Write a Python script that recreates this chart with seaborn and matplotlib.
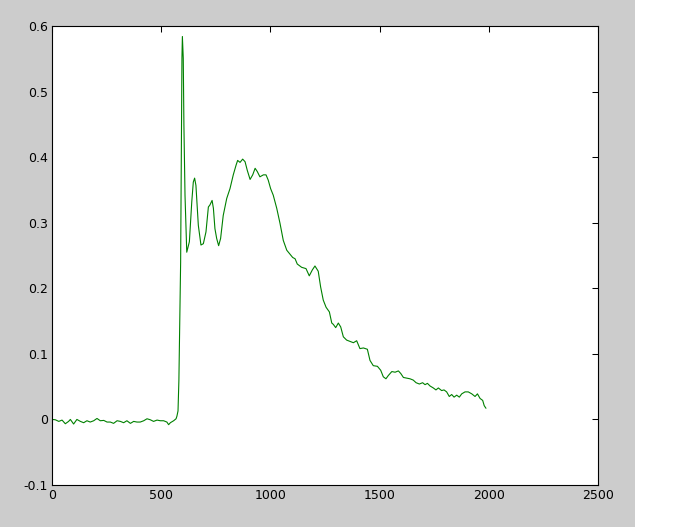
import numpy as np
import pandas as pd
import matplotlib
matplotlib.use('Agg')
import matplotlib.pyplot as plt
from matplotlib.patches import Rectangle
import seaborn as sns

# signal
x_vals = [0, 15, 31, 46, 61, 76, 84, 99, 114, 130, 145, 160, 175, 191, 206, 221,
          237, 252, 267, 282, 298, 313, 328, 343, 359, 374, 389, 404, 420, 435,
          450, 465, 481, 496, 511, 526, 534, 542, 557, 568, 572, 577, 581, 586,
          589, 595, 597, 601, 604, 609, 617, 629, 640, 647, 653, 659, 670, 682,
          693, 705, 716, 723, 733, 739, 746, 754, 763, 772, 784, 800, 815, 830,
          843, 850, 861, 873, 884, 894, 907, 919, 930, 940, 952, 968, 980, 990,
          1001, 1013, 1029, 1044, 1059, 1075, 1090, 1102, 1113, 1123, 1143, 1163,
          1178, 1192, 1204, 1219, 1230, 1242, 1255, 1270, 1281, 1288, 1299, 1311,
          1322, 1334, 1349, 1365, 1380, 1395, 1410, 1426, 1444, 1456, 1471, 1490,
          1505, 1517, 1529, 1540, 1556, 1571, 1586, 1597, 1609, 1624, 1639, 1654,
          1667, 1682, 1697, 1708, 1719, 1731, 1746, 1758, 1769, 1784, 1795, 1807,
          1819, 1830, 1841, 1853, 1865, 1876, 1891, 1906, 1922, 1937, 1948, 1960,
          1972, 1979, 1987]
y_vals = [0.0, -0.0005, -0.003, -0.001, -0.0066, -0.003, 0.0, -0.007, 0.0, -0.003,
          -0.005, -0.002, -0.004, -0.002, 0.0015, -0.002, -0.0015, -0.004, -0.004,
          -0.006, -0.002, -0.003, -0.005, -0.002, -0.006, -0.003, -0.004, -0.004,
          -0.002, 0.001, -0.0005, -0.003, -0.001, -0.002, -0.002, -0.004, -0.008,
          -0.005, -0.002, 0.001, 0.005, 0.013, 0.0595, 0.174, 0.24, 0.551, 0.584,
          0.551, 0.449, 0.342, 0.255, 0.271, 0.332, 0.362, 0.368, 0.357, 0.296,
          0.266, 0.268, 0.286, 0.324, 0.327, 0.334, 0.322, 0.291, 0.276, 0.265,
          0.276, 0.311, 0.337, 0.352, 0.373, 0.388, 0.395, 0.392, 0.397, 0.393,
          0.380, 0.366, 0.373, 0.383, 0.378, 0.370, 0.373, 0.373, 0.365, 0.352,
          0.342, 0.322, 0.299, 0.273, 0.258, 0.252, 0.247, 0.245, 0.237, 0.232,
          0.230, 0.219, 0.228, 0.234, 0.226, 0.202, 0.182, 0.171, 0.164, 0.147,
          0.145, 0.140, 0.147, 0.141, 0.126, 0.121, 0.119, 0.117, 0.120, 0.108,
          0.109, 0.107, 0.090, 0.082, 0.081, 0.075, 0.065, 0.062, 0.067, 0.073,
          0.072, 0.074, 0.070, 0.064, 0.063, 0.062, 0.060, 0.056, 0.054, 0.056,
          0.053, 0.055, 0.051, 0.048, 0.045, 0.048, 0.044, 0.045, 0.042, 0.035,
          0.038, 0.034, 0.037, 0.034, 0.039, 0.042, 0.042, 0.039, 0.035, 0.039,
          0.032, 0.029, 0.021, 0.017]

x_ticks = [0, 500, 1000, 1500, 2000, 2500]
y_ticks = [-0.1, 0, 0.1, 0.2, 0.3, 0.4, 0.5, 0.6]
y_labels = ['-0.1', '0', '0.1', '0.2', '0.3', '0.4', '0.5', '0.6']

sns.set_style('white')
plt.rcParams['font.family'] = ['DejaVu Sans']

df = pd.DataFrame({'x': x_vals, 'y': y_vals})

fig = plt.figure(figsize=(6.83, 5.27), dpi=100, facecolor='white')
# grey window background (the reference has a white strip on the right)
fig.add_artist(Rectangle((0, 0), 635 / 683, 1, transform=fig.transFigure,
                         facecolor='#cccccc', edgecolor='none', zorder=-10))

ax = fig.add_axes([52 / 683, 42 / 527, 546 / 683, 459 / 527])
ax.set_facecolor('white')
sns.lineplot(data=df, x='x', y='y', ax=ax, color='#008000', linewidth=0.8,
             sort=False, estimator=None)

ax.set_xlim(0, 2500)
ax.set_ylim(-0.1, 0.6)
ax.set_xticks(x_ticks)
ax.set_yticks(y_ticks)
ax.set_yticklabels(y_labels)
ax.set_xlabel('')
ax.set_ylabel('')
ax.tick_params(direction='in', length=4.3, width=0.75, colors='black',
               labelsize=9, pad=3, top=True, right=True)
for s in ax.spines.values():
    s.set_visible(True)
    s.set_color('black')
    s.set_linewidth(0.8)

fig.savefig('out.png', dpi=100, facecolor=fig.get_facecolor())
